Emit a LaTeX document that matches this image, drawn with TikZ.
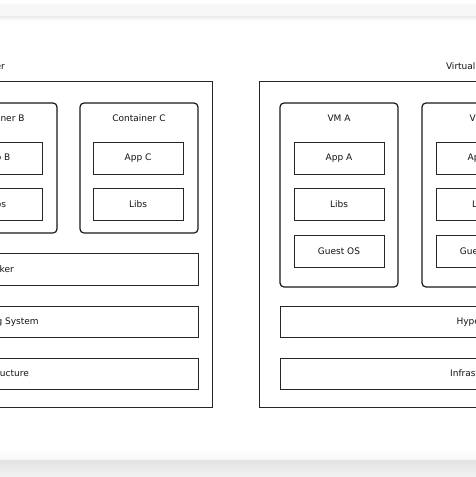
\documentclass[tikz,border=0pt]{standalone}
\usepackage{fontspec}
\setmainfont{DejaVu Sans}
\usetikzlibrary{positioning}

\begin{document}
\begin{tikzpicture}[x=1pt,y=-1pt,font=\fontsize{9}{10}\selectfont,text=black!92,
                    host/.style={draw=black!85,line width=0.9pt,minimum height=326pt,inner sep=0pt},
                    guest/.style={draw=black!90,line width=1.2pt,rounded corners=4pt,minimum width=118pt,inner sep=0pt},
                    part/.style={draw=black!85,line width=0.8pt,minimum width=90pt,minimum height=32pt,inner sep=0pt},
                    layer/.style={draw=black!85,line width=0.8pt,minimum height=31pt,inner sep=0pt},
                    title/.style={inner sep=0pt}]
\useasboundingbox (0,0) rectangle (476,477);
\clip (0,0) rectangle (476,477);
\fill[white] (0,0) rectangle (476,477);
% page bands
\fill[black!3] (0,4) rectangle (476,16);
\shade[top color=black!8,bottom color=white] (0,16) rectangle (476,21);
\shade[top color=white,bottom color=black!3] (0,448) rectangle (476,460);
\shade[top color=black!11,bottom color=black!5] (0,460) rectangle (476,477);

% containers
\node[title,anchor=east] (ltitle) at (5,66) {Container};
\node[host,minimum width=428pt] (lhost) at (-2,244) {};

\node[guest,minimum height=130pt] (ca) at (-143,168) {};
\node[guest,minimum height=130pt] (cb) at (-2,168) {};
\node[guest,minimum height=130pt] (cc) at (139,168) {};
\node[title] (tca) at (-143,118) {Container A};
\node[title] (tcb) at (-2,118) {Container B};
\node[title] (tcc) at (139,118) {Container C};

\node[part] (appa) at (-143,158) {App A};
\node[part] (libsa) at (-143,204) {Libs};
\node[part] (appb) at (-3,158) {App B};
\node[part] (libsb) at (-3,204) {Libs};
\node[part] (appc) at (138,158) {App C};
\node[part] (libsc) at (138,204) {Libs};

\node[layer,minimum width=400pt,minimum height=32pt] (docker) at (-2,269) {Docker};
\node[layer,minimum width=400pt] (los) at (-2,322) {Operating System};
\node[layer,minimum width=400pt] (linfra) at (-2,373.5) {Infrastructure};

% virtual machines
\node[title] (rtitle) at (481,66) {Virtual Machine};
\node[host,minimum width=444pt] (rhost) at (481,244) {};

\node[guest,minimum height=184pt] (vma) at (339,195) {};
\node[guest,minimum height=184pt] (vmb) at (481,195) {};
\node[guest,minimum height=184pt] (vmc) at (623,195) {};
\node[title] (tva) at (339,118) {VM A};
\node[title] (tvb) at (481,118) {VM B};
\node[title] (tvc) at (623,118) {VM C};

\node[part] (vappa) at (339,158) {App A};
\node[part] (vlibsa) at (339,204) {Libs};
\node[part] (osa) at (339,251.5) {Guest OS};
\node[part] (vappb) at (481,158) {App B};
\node[part] (vlibsb) at (481,204) {Libs};
\node[part] (osb) at (481,251.5) {Guest OS};
\node[part] (vappc) at (623,158) {App C};
\node[part] (vlibsc) at (623,204) {Libs};
\node[part] (osc) at (623,251.5) {Guest OS};

\node[layer,minimum width=402pt] (hyper) at (481,322) {Hypervisor};
\node[layer,minimum width=402pt] (rinfra) at (481,373.5) {Infrastructure};
\end{tikzpicture}
\end{document}
